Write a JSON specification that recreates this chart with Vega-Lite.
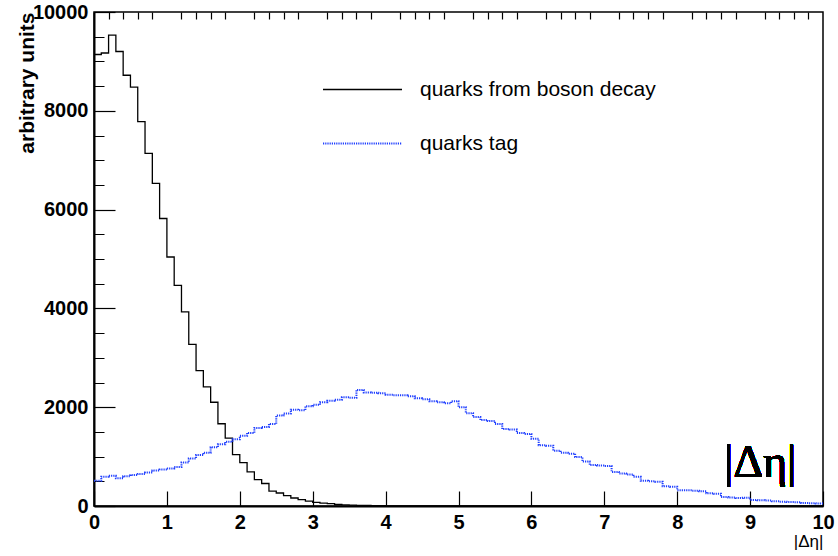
{
  "$schema": "https://vega.github.io/schema/vega-lite/v6.json",
  "width": 729,
  "height": 494,
  "autosize": {"type": "none"},
  "padding": {"left": 94, "top": 12, "right": 15, "bottom": 50},
  "background": "white",
  "view": {"stroke": "black", "strokeWidth": 1.5},
  "config": {
    "axis": {"grid": false, "domainColor": "black", "domainWidth": 2, "tickColor": "black", "tickWidth": 1.2, "labelColor": "black", "titleColor": "black"},
    "text": {"font": "Liberation Serif"},
    "legend": {
      "orient": "none", "legendX": 228, "legendY": 37, "title": null,
      "symbolType": "stroke", "symbolSize": 6241, "symbolStrokeWidth": 1.5,
      "labelFont": "Liberation Sans", "labelFontSize": 21, "labelColor": "black",
      "labelOffset": 17, "rowPadding": 3, "labelLimit": 400
    }
  },
  "data": {"values": [
    {"x":0.0,"n":9140,"s":"quarks from boson decay"},{"x":0.1,"n":9170,"s":"quarks from boson decay"},{"x":0.2,"n":9530,"s":"quarks from boson decay"},{"x":0.3,"n":9200,"s":"quarks from boson decay"},{"x":0.4,"n":8720,"s":"quarks from boson decay"},{"x":0.5,"n":8480,"s":"quarks from boson decay"},{"x":0.6,"n":7780,"s":"quarks from boson decay"},{"x":0.7,"n":7140,"s":"quarks from boson decay"},{"x":0.8,"n":6530,"s":"quarks from boson decay"},{"x":0.9,"n":5820,"s":"quarks from boson decay"},
    {"x":1.0,"n":5040,"s":"quarks from boson decay"},{"x":1.1,"n":4465,"s":"quarks from boson decay"},{"x":1.2,"n":3930,"s":"quarks from boson decay"},{"x":1.3,"n":3270,"s":"quarks from boson decay"},{"x":1.4,"n":2740,"s":"quarks from boson decay"},{"x":1.5,"n":2410,"s":"quarks from boson decay"},{"x":1.6,"n":2100,"s":"quarks from boson decay"},{"x":1.7,"n":1665,"s":"quarks from boson decay"},{"x":1.8,"n":1375,"s":"quarks from boson decay"},{"x":1.9,"n":1040,"s":"quarks from boson decay"},
    {"x":2.0,"n":880,"s":"quarks from boson decay"},{"x":2.1,"n":690,"s":"quarks from boson decay"},{"x":2.2,"n":535,"s":"quarks from boson decay"},{"x":2.3,"n":455,"s":"quarks from boson decay"},{"x":2.4,"n":300,"s":"quarks from boson decay"},{"x":2.5,"n":263,"s":"quarks from boson decay"},{"x":2.6,"n":210,"s":"quarks from boson decay"},{"x":2.7,"n":162,"s":"quarks from boson decay"},{"x":2.8,"n":129,"s":"quarks from boson decay"},{"x":2.9,"n":100,"s":"quarks from boson decay"},
    {"x":3.0,"n":75,"s":"quarks from boson decay"},{"x":3.1,"n":60,"s":"quarks from boson decay"},{"x":3.2,"n":48,"s":"quarks from boson decay"},{"x":3.3,"n":30,"s":"quarks from boson decay"},{"x":3.4,"n":22,"s":"quarks from boson decay"},{"x":3.5,"n":17,"s":"quarks from boson decay"},{"x":3.6,"n":13,"s":"quarks from boson decay"},{"x":3.7,"n":10,"s":"quarks from boson decay"},{"x":3.8,"n":7,"s":"quarks from boson decay"},{"x":3.9,"n":5,"s":"quarks from boson decay"},
    {"x":4.0,"n":4,"s":"quarks from boson decay"},{"x":4.1,"n":3,"s":"quarks from boson decay"},{"x":4.2,"n":2,"s":"quarks from boson decay"},{"x":4.3,"n":2,"s":"quarks from boson decay"},{"x":4.4,"n":1,"s":"quarks from boson decay"},{"x":4.5,"n":1,"s":"quarks from boson decay"},{"x":4.6,"n":1,"s":"quarks from boson decay"},{"x":4.7,"n":0,"s":"quarks from boson decay"},{"x":10.0,"n":0,"s":"quarks from boson decay"},
    {"x":0.0,"n":510,"s":"quarks tag"},{"x":0.1,"n":590,"s":"quarks tag"},{"x":0.2,"n":610,"s":"quarks tag"},{"x":0.3,"n":560,"s":"quarks tag"},{"x":0.4,"n":600,"s":"quarks tag"},{"x":0.5,"n":630,"s":"quarks tag"},{"x":0.6,"n":650,"s":"quarks tag"},{"x":0.7,"n":680,"s":"quarks tag"},{"x":0.8,"n":720,"s":"quarks tag"},{"x":0.9,"n":740,"s":"quarks tag"},
    {"x":1.0,"n":760,"s":"quarks tag"},{"x":1.1,"n":790,"s":"quarks tag"},{"x":1.2,"n":880,"s":"quarks tag"},{"x":1.3,"n":960,"s":"quarks tag"},{"x":1.4,"n":1030,"s":"quarks tag"},{"x":1.5,"n":1080,"s":"quarks tag"},{"x":1.6,"n":1190,"s":"quarks tag"},{"x":1.7,"n":1250,"s":"quarks tag"},{"x":1.8,"n":1300,"s":"quarks tag"},{"x":1.9,"n":1350,"s":"quarks tag"},
    {"x":2.0,"n":1420,"s":"quarks tag"},{"x":2.1,"n":1480,"s":"quarks tag"},{"x":2.2,"n":1580,"s":"quarks tag"},{"x":2.3,"n":1600,"s":"quarks tag"},{"x":2.4,"n":1660,"s":"quarks tag"},{"x":2.5,"n":1830,"s":"quarks tag"},{"x":2.6,"n":1870,"s":"quarks tag"},{"x":2.7,"n":1950,"s":"quarks tag"},{"x":2.8,"n":1940,"s":"quarks tag"},{"x":2.9,"n":2020,"s":"quarks tag"},
    {"x":3.0,"n":2050,"s":"quarks tag"},{"x":3.1,"n":2100,"s":"quarks tag"},{"x":3.2,"n":2130,"s":"quarks tag"},{"x":3.3,"n":2150,"s":"quarks tag"},{"x":3.4,"n":2200,"s":"quarks tag"},{"x":3.5,"n":2190,"s":"quarks tag"},{"x":3.6,"n":2350,"s":"quarks tag"},{"x":3.7,"n":2300,"s":"quarks tag"},{"x":3.8,"n":2290,"s":"quarks tag"},{"x":3.9,"n":2280,"s":"quarks tag"},
    {"x":4.0,"n":2250,"s":"quarks tag"},{"x":4.1,"n":2240,"s":"quarks tag"},{"x":4.2,"n":2240,"s":"quarks tag"},{"x":4.3,"n":2220,"s":"quarks tag"},{"x":4.4,"n":2180,"s":"quarks tag"},{"x":4.5,"n":2160,"s":"quarks tag"},{"x":4.6,"n":2120,"s":"quarks tag"},{"x":4.7,"n":2100,"s":"quarks tag"},{"x":4.8,"n":2080,"s":"quarks tag"},{"x":4.9,"n":2120,"s":"quarks tag"},
    {"x":5.0,"n":2000,"s":"quarks tag"},{"x":5.1,"n":1880,"s":"quarks tag"},{"x":5.2,"n":1800,"s":"quarks tag"},{"x":5.3,"n":1740,"s":"quarks tag"},{"x":5.4,"n":1720,"s":"quarks tag"},{"x":5.5,"n":1660,"s":"quarks tag"},{"x":5.6,"n":1560,"s":"quarks tag"},{"x":5.7,"n":1550,"s":"quarks tag"},{"x":5.8,"n":1480,"s":"quarks tag"},{"x":5.9,"n":1460,"s":"quarks tag"},
    {"x":6.0,"n":1360,"s":"quarks tag"},{"x":6.1,"n":1230,"s":"quarks tag"},{"x":6.2,"n":1220,"s":"quarks tag"},{"x":6.3,"n":1120,"s":"quarks tag"},{"x":6.4,"n":1080,"s":"quarks tag"},{"x":6.5,"n":1060,"s":"quarks tag"},{"x":6.6,"n":990,"s":"quarks tag"},{"x":6.7,"n":900,"s":"quarks tag"},{"x":6.8,"n":830,"s":"quarks tag"},{"x":6.9,"n":820,"s":"quarks tag"},
    {"x":7.0,"n":810,"s":"quarks tag"},{"x":7.1,"n":690,"s":"quarks tag"},{"x":7.2,"n":660,"s":"quarks tag"},{"x":7.3,"n":640,"s":"quarks tag"},{"x":7.4,"n":590,"s":"quarks tag"},{"x":7.5,"n":510,"s":"quarks tag"},{"x":7.6,"n":500,"s":"quarks tag"},{"x":7.7,"n":490,"s":"quarks tag"},{"x":7.8,"n":400,"s":"quarks tag"},{"x":7.9,"n":390,"s":"quarks tag"},
    {"x":8.0,"n":320,"s":"quarks tag"},{"x":8.1,"n":320,"s":"quarks tag"},{"x":8.2,"n":310,"s":"quarks tag"},{"x":8.3,"n":300,"s":"quarks tag"},{"x":8.4,"n":260,"s":"quarks tag"},{"x":8.5,"n":250,"s":"quarks tag"},{"x":8.6,"n":180,"s":"quarks tag"},{"x":8.7,"n":170,"s":"quarks tag"},{"x":8.8,"n":160,"s":"quarks tag"},{"x":8.9,"n":165,"s":"quarks tag"},
    {"x":9.0,"n":120,"s":"quarks tag"},{"x":9.1,"n":115,"s":"quarks tag"},{"x":9.2,"n":110,"s":"quarks tag"},{"x":9.3,"n":95,"s":"quarks tag"},{"x":9.4,"n":85,"s":"quarks tag"},{"x":9.5,"n":80,"s":"quarks tag"},{"x":9.6,"n":75,"s":"quarks tag"},{"x":9.7,"n":60,"s":"quarks tag"},{"x":9.8,"n":55,"s":"quarks tag"},{"x":9.9,"n":50,"s":"quarks tag"},{"x":10.0,"n":50,"s":"quarks tag"}
  ]},
  "layer": [
    {
      "mark": {"type": "line", "interpolate": "step-after"},
      "encoding": {
        "x": {"field": "x", "type": "quantitative", "scale": {"domain": [0, 10], "nice": false, "zero": false},
              "axis": {"orient": "bottom", "values": [0,1,2,3,4,5,6,7,8,9,10], "tickSize": -15,
                       "labelPadding": 21, "labelBaseline": "top", "format": "d",
                       "labelFont": "Liberation Sans", "labelFontWeight": "bold", "labelFontSize": 20, "labelFlush": false, "labelOverlap": false,
                       "title": "|Δη|", "titleFont": "Liberation Sans", "titleFontWeight": "normal", "titleFontSize": 17,
                       "titleAnchor": "end", "titleAlign": "right", "titleBaseline": "alphabetic", "titleX": 729, "titleY": 40}},
        "y": {"field": "n", "type": "quantitative", "scale": {"domain": [0, 10000], "nice": false},
              "axis": {"orient": "left", "values": [0,2000,4000,6000,8000,10000], "tickSize": -21,
                       "labelPadding": 27, "labelBaseline": "middle", "format": "d",
                       "labelFont": "Liberation Sans", "labelFontWeight": "bold", "labelFontSize": 20, "labelFlush": false, "labelOverlap": false,
                       "title": "arbitrary units", "titleFont": "Liberation Sans", "titleFontWeight": "bold", "titleFontSize": 21,
                       "titleAngle": 270, "titleAlign": "right", "titleBaseline": "alphabetic", "titleX": -61, "titleY": 0}},
        "color": {"field": "s", "type": "nominal", "scale": {"domain": ["quarks from boson decay", "quarks tag"], "range": ["#000000", "#1f3fff"]}},
        "strokeDash": {"field": "s", "type": "nominal", "scale": {"domain": ["quarks from boson decay", "quarks tag"], "range": [[1, 0], [1.2, 1]]}},
        "strokeWidth": {"field": "s", "type": "nominal", "scale": {"domain": ["quarks from boson decay", "quarks tag"], "range": [1.3, 2]}}
      }
    },
    {
      "mark": {"type": "point", "opacity": 0, "size": 0},
      "encoding": {
        "x": {"field": "x", "type": "quantitative",
              "axis": {"values": [0.2,0.4,0.6,0.8,1.2,1.4,1.6,1.8,2.2,2.4,2.6,2.8,3.2,3.4,3.6,3.8,4.2,4.4,4.6,4.8,5.2,5.4,5.6,5.8,6.2,6.4,6.6,6.8,7.2,7.4,7.6,7.8,8.2,8.4,8.6,8.8,9.2,9.4,9.6,9.8],
                       "ticks": false, "labels": false, "domain": false, "title": null,
                       "grid": true, "gridColor": "black", "gridWidth": 1.2, "gridOpacity": 1, "gridDash": [0, 487, 7]}},
        "y": {"field": "n", "type": "quantitative",
              "axis": {"values": [500,1000,1500,2500,3000,3500,4500,5000,5500,6500,7000,7500,8500,9000,9500],
                       "ticks": false, "labels": false, "domain": false, "title": null,
                       "grid": true, "gridColor": "black", "gridWidth": 1.2, "gridOpacity": 1, "gridDash": [0, 719, 10]}}
      }
    },
    {
      "mark": {"type": "text", "text": "|Δη|", "font": "Liberation Serif", "fontWeight": "normal", "fontSize": 46, "align": "center", "baseline": "alphabetic", "color": "black"},
      "encoding": {"x": {"datum": 9.14, "type": "quantitative", "axis": null}, "y": {"datum": 580, "type": "quantitative", "axis": null}}
    }
  ],
  "resolve": {"axis": {"x": "independent", "y": "independent"}}
}
